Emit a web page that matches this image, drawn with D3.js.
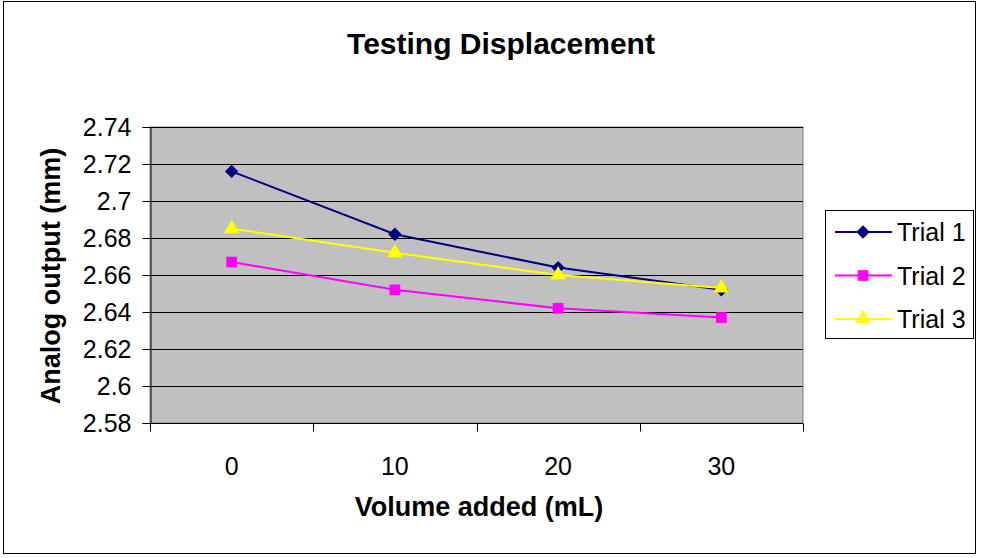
<html>
<head>
  <meta charset="utf-8">
  <title>Testing Displacement</title>
  <style>
    html, body { margin: 0; padding: 0; background: #fff; }
    svg { display: block; font-family: "Liberation Sans", Arial, sans-serif; }
  </style>
  <script src="https://d3js.org/d3.v7.js" charset="utf-8"></script>
</head>
<body>
<script>
  // data
  var volumes = ["0", "10", "20", "30"];
  var trial1 = [2.716, 2.682, 2.664, 2.652];
  var trial2 = [2.667, 2.652, 2.642, 2.637];
  var trial3 = [2.685, 2.672, 2.660, 2.653];
  var yTicks = [2.58, 2.6, 2.62, 2.64, 2.66, 2.68, 2.7, 2.72, 2.74];
  var seriesNames = ["Trial 1", "Trial 2", "Trial 3"];

  var width = 981, height = 558;
  var plot = { left: 150, right: 803, top: 127, bottom: 423 };

  var svg = d3.select("body").append("svg")
    .attr("width", width)
    .attr("height", height);

  // outer chart border
  svg.append("rect")
    .attr("x", 3.5).attr("y", 1.5)
    .attr("width", 972).attr("height", 552)
    .attr("fill", "#fff")
    .attr("stroke", "#000").attr("stroke-width", 1);

  var x = d3.scaleBand().domain(volumes).range([plot.left, plot.right]);
  var y = d3.scaleLinear().domain([2.58, 2.74]).range([plot.bottom, plot.top]);

  // plot area
  svg.append("rect")
    .attr("x", plot.left).attr("y", plot.top)
    .attr("width", plot.right - plot.left).attr("height", plot.bottom - plot.top)
    .attr("fill", "#c0c0c0")
    .attr("stroke", "#808080").attr("stroke-width", 1);

  // gridlines
  svg.append("g").selectAll("line")
    .data(yTicks.slice(1))
    .enter().append("line")
    .attr("x1", plot.left).attr("x2", plot.right)
    .attr("y1", d => Math.round(y(d)) + 0.5).attr("y2", d => Math.round(y(d)) + 0.5)
    .attr("stroke", "#000").attr("stroke-width", 1);

  // y axis
  var yAxis = d3.axisLeft(y).tickValues(yTicks).tickSize(8).tickPadding(11)
    .tickFormat(d => d3.format("")(+d.toFixed(2)));
  var gy = svg.append("g")
    .attr("transform", "translate(" + (plot.left + 0.5) + ",0)")
    .call(yAxis);
  gy.select(".domain").attr("stroke", "#000");
  gy.selectAll("text").attr("font-size", 25).attr("fill", "#000")
    .attr("font-family", "Liberation Sans, Arial, sans-serif");

  // x axis: ticks between categories
  var gx = svg.append("g")
    .attr("transform", "translate(0," + (plot.bottom + 0.5) + ")");
  gx.append("line")
    .attr("x1", plot.left).attr("x2", plot.right)
    .attr("stroke", "#000");
  var bounds = volumes.map(v => x(v)).concat([plot.right]);
  gx.selectAll(".tk").data(bounds).enter().append("line")
    .attr("class", "tk")
    .attr("x1", d => Math.round(d) + 0.5).attr("x2", d => Math.round(d) + 0.5)
    .attr("y1", 0).attr("y2", 8)
    .attr("stroke", "#000");
  gx.selectAll("text").data(volumes).enter().append("text")
    .attr("x", d => x(d) + x.bandwidth() / 2)
    .attr("y", 51)
    .attr("text-anchor", "middle")
    .attr("font-size", 25)
    .text(d => d);

  // titles
  svg.append("text")
    .attr("x", 501).attr("y", 54)
    .attr("text-anchor", "middle")
    .attr("font-size", 30).attr("font-weight", "bold")
    .text("Testing Displacement");
  svg.append("text")
    .attr("x", 479).attr("y", 516)
    .attr("text-anchor", "middle")
    .attr("font-size", 27).attr("font-weight", "bold")
    .text("Volume added (mL)");
  svg.append("text")
    .attr("transform", "translate(60,276) rotate(-90)")
    .attr("text-anchor", "middle")
    .attr("font-size", 27).attr("font-weight", "bold")
    .text("Analog output (mm)");

  var series = [
    { name: seriesNames[0], values: trial1, color: "#000080", shape: d3.symbolSquare, size: 90, rot: 45 },
    { name: seriesNames[1], values: trial2, color: "#ff00ff", shape: d3.symbolSquare, size: 115, rot: 0 },
    { name: seriesNames[2], values: trial3, color: "#ffff00", shape: d3.symbolTriangle, size: 105, rot: 0 }
  ];

  var line = d3.line()
    .x((d, i) => x(volumes[i]) + x.bandwidth() / 2)
    .y(d => y(d));

  series.forEach(function (s) {
    var g = svg.append("g");
    g.append("path")
      .attr("d", line(s.values))
      .attr("fill", "none")
      .attr("stroke", s.color)
      .attr("stroke-width", 2);
    g.selectAll("path.m").data(s.values).enter().append("path")
      .attr("class", "m")
      .attr("d", d3.symbol().type(s.shape).size(s.size))
      .attr("transform", (d, i) => "translate(" + (x(volumes[i]) + x.bandwidth() / 2) + "," + y(d) + ") rotate(" + s.rot + ")")
      .attr("fill", s.color);
  });

  // legend
  var lg = svg.append("g");
  lg.append("rect")
    .attr("x", 825.5).attr("y", 210.5)
    .attr("width", 148).attr("height", 128)
    .attr("fill", "#fff").attr("stroke", "#000");
  series.forEach(function (s, i) {
    var cy = 232 + i * 43.5;
    lg.append("line")
      .attr("x1", 835).attr("x2", 892)
      .attr("y1", cy).attr("y2", cy)
      .attr("stroke", s.color).attr("stroke-width", 2);
    lg.append("path")
      .attr("d", d3.symbol().type(s.shape).size(s.size))
      .attr("transform", "translate(863," + cy + ") rotate(" + s.rot + ")")
      .attr("fill", s.color);
    lg.append("text")
      .attr("x", 897).attr("y", cy + 9)
      .attr("font-size", 25)
      .text(s.name);
  });
</script>
</body>
</html>
